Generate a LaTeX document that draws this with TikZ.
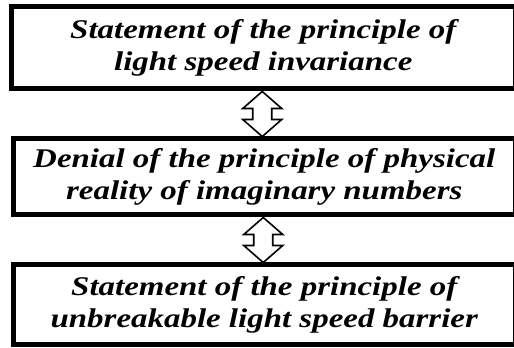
\documentclass[tikz,border=0pt]{standalone}
\usepackage{fontspec}
\setmainfont[FakeStretch=1.22]{Liberation Serif}
\usetikzlibrary{calc}

\begin{document}
\begin{tikzpicture}[x=1pt, y=1pt,
    box/.style={draw, line width=5pt, rectangle, align=center,
      font=\fontsize{27}{32}\selectfont\bfseries\itshape},
    hollow/.style={draw, fill=white, line width=1.6pt, line join=miter}]

  % ---- page frame ----
  \useasboundingbox (0,0) rectangle (514,348);
  \clip (0,0) rectangle (514,348);

  % ---- the three statements ----
  \node[box, minimum width=504.5, minimum height=82] (light) at (263.25,300)
    {Statement of the principle of\\light speed invariance};
  \node[box, minimum width=502.5, minimum height=76] (denial) at (264.25,171)
    {Denial of the principle of physical\\reality of imaginary numbers};
  \node[box, minimum width=502.5, minimum height=80] (barrier) at (264.25,43)
    {Statement of the principle of\\unbreakable light speed barrier};

  % ---- hollow double arrows between them ----
  \foreach \a/\b in {light/denial, denial/barrier}
    \draw[hollow] let \p1=(\a.south), \p2=(\b.north) in
      (\x1-1,\y1) -- ++(19.5,-17) -- ++(-10,0) -- (\x1+8.5,\y2+17)
      -- ++(10,0) -- (\x1-1,\y2) -- ++(-19.5,17) -- ++(10,0)
      -- (\x1-10.5,\y1-17) -- ++(-10,0) -- cycle;

\end{tikzpicture}
\end{document}
